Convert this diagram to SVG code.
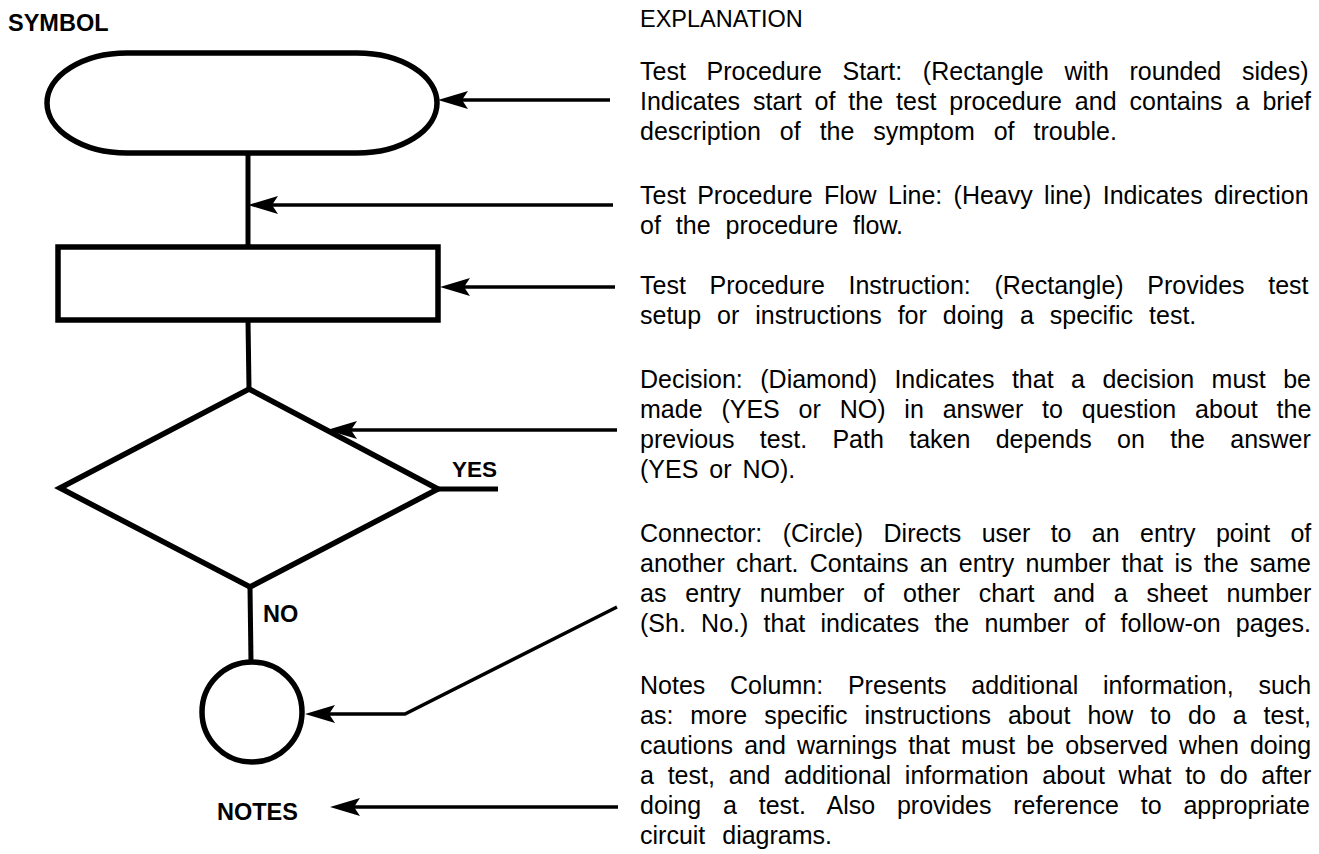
<svg xmlns="http://www.w3.org/2000/svg" width="1319" height="854" viewBox="0 0 1319 854">
<defs>
<style>
.shape{fill:none;stroke:#000;stroke-width:5.5;stroke-linejoin:miter}
.flow{fill:none;stroke:#000;stroke-width:5}
.ptr{fill:none;stroke:#000;stroke-width:3.5;marker-end:url(#head)}
.lbl{font-family:"Liberation Sans",Arial,Helvetica,sans-serif;font-weight:bold;font-size:23.5px;fill:#000}
.body{font-family:"Liberation Sans",Arial,Helvetica,sans-serif;font-size:25px;fill:#000}
.hdr{font-family:"Liberation Sans",Arial,Helvetica,sans-serif;font-size:23.5px;fill:#000}
</style>
<marker id="head" markerUnits="userSpaceOnUse" viewBox="0 0 30 20" markerWidth="30" markerHeight="20" refX="20" refY="10" orient="auto">
<path d="M30,10 L0,1 L6,10 L0,19 Z" fill="#000"/>
</marker>
</defs>
<rect width="1319" height="854" fill="#fff"/>

<g id="headers">
<text class="lbl" x="8" y="31">SYMBOL</text>
<text class="hdr" x="640" y="27">EXPLANATION</text>
</g>

<g id="node-start">
<path class="shape" d="M127,53 H357 A80,50 0 0 1 357,153 H127 A80,50 0 0 1 127,53 Z"/>
</g>

<g id="node-instruction">
<rect class="shape" x="58" y="247" width="380" height="73"/>
</g>

<g id="node-decision">
<polygon class="shape" points="249,389 438,489 250,587 60,488"/>
<text class="lbl" x="452" y="477" style="font-size:22.5px">YES</text>
<text class="lbl" x="263" y="622">NO</text>
</g>

<g id="node-connector">
<circle class="shape" cx="252" cy="712" r="50"/>
</g>

<g id="node-notes">
<text class="lbl" x="217" y="820">NOTES</text>
</g>

<g id="flow-lines">
<line class="flow" x1="248" y1="153" x2="248" y2="247"/>
<line class="flow" x1="248" y1="320" x2="249" y2="389"/>
<line class="flow" x1="438" y1="489" x2="498" y2="489"/>
<line class="flow" x1="250" y1="587" x2="251" y2="662"/>
</g>

<g id="connectors">
<line class="ptr" x1="610" y1="100" x2="448" y2="100"/>
<line class="ptr" x1="613" y1="205" x2="258" y2="205"/>
<line class="ptr" x1="615" y1="287" x2="450" y2="287"/>
<line class="ptr" x1="617" y1="430" x2="337" y2="430"/>
<polyline class="ptr" points="617,607 405,714 315,714"/>
<line class="ptr" x1="618" y1="807" x2="340" y2="807"/>
</g>

<g id="explanation-start">
<text class="body" x="640" y="80" word-spacing="13.7">Test Procedure Start: (Rectangle with rounded sides)</text>
<text class="body" x="640" y="110" word-spacing="6">Indicates start of the test procedure and contains a brief</text>
<text class="body" x="640" y="140" word-spacing="12">description of the symptom of trouble.</text>
</g>

<g id="explanation-flow">
<text class="body" x="640" y="204" word-spacing="4.4">Test Procedure Flow Line: (Heavy line) Indicates direction</text>
<text class="body" x="640" y="234" word-spacing="8">of the procedure flow.</text>
</g>

<g id="explanation-instruction">
<text class="body" x="640" y="294" word-spacing="16.7">Test Procedure Instruction: (Rectangle) Provides test</text>
<text class="body" x="640" y="324" word-spacing="9">setup or instructions for doing a specific test.</text>
</g>

<g id="explanation-decision">
<text class="body" x="640" y="388" word-spacing="10.5">Decision: (Diamond) Indicates that a decision must be</text>
<text class="body" x="640" y="418" word-spacing="11.9">made (YES or NO) in answer to question about the</text>
<text class="body" x="640" y="448" word-spacing="18.4">previous test. Path taken depends on the answer</text>
<text class="body" x="640" y="478" word-spacing="4">(YES or NO).</text>
</g>

<g id="explanation-connector">
<text class="body" x="640" y="542" word-spacing="13.4">Connector: (Circle) Directs user to an entry point of</text>
<text class="body" x="640" y="572" word-spacing="4.3">another chart. Contains an entry number that is the same</text>
<text class="body" x="640" y="602" word-spacing="11.9">as entry number of other chart and a sheet number</text>
<text class="body" x="640" y="632" word-spacing="8.3">(Sh. No.) that indicates the number of follow-on pages.</text>
</g>

<g id="explanation-notes">
<text class="body" x="640" y="694" word-spacing="17.8">Notes Column: Presents additional information, such</text>
<text class="body" x="640" y="724" word-spacing="10">as: more specific instructions about how to do a test,</text>
<text class="body" x="640" y="754" word-spacing="4.15">cautions and warnings that must be observed when doing</text>
<text class="body" x="640" y="784" word-spacing="6.8">a test, and additional information about what to do after</text>
<text class="body" x="640" y="814" word-spacing="14.9">doing a test. Also provides reference to appropriate</text>
<text class="body" x="640" y="844" word-spacing="10">circuit diagrams.</text>
</g>
</svg>
